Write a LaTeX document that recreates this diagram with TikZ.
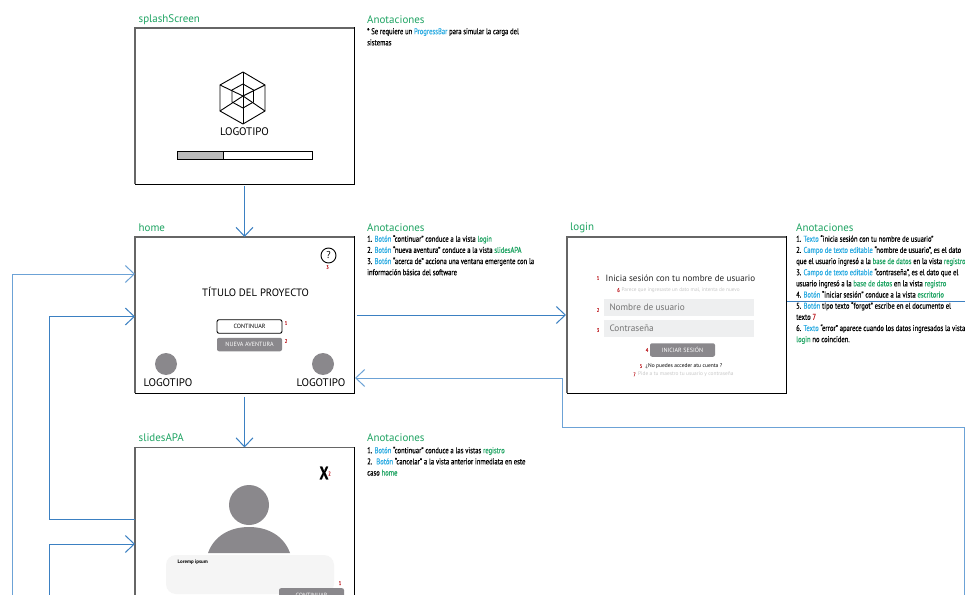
\documentclass[tikz,border=0pt]{standalone}
\usepackage{fontspec}
\setmainfont{PT Sans}
\newfontfamily\notefont[FakeStretch=0.79,FakeBold=0.4]{PT Sans}
\usetikzlibrary{arrows.meta}

\definecolor{linkblue}{HTML}{3B80C2}
\definecolor{linkpale}{HTML}{6CA2D6}
\definecolor{viewgreen}{HTML}{1FA463}
\definecolor{typeblue}{HTML}{2AABE2}
\definecolor{numred}{HTML}{C1272D}
\definecolor{btngray}{HTML}{8A888C}
\definecolor{fieldgray}{HTML}{EEEFF0}

\newcommand{\tipo}[1]{\textcolor{typeblue}{#1}}
\newcommand{\vista}[1]{\textcolor{viewgreen}{#1}}

\tikzset{
	screen/.style={draw=black, line width=1bp, fill=white, inner sep=0, outer sep=0, minimum width=219bp, minimum height=156bp},
	viewname/.style={anchor=west, inner sep=0, text=viewgreen, font=\fontsize{11}{12}\selectfont},
	note/.style={anchor=north west, inner sep=0, align=left, font=\notefont\fontsize{8.4}{11.2}\selectfont},
	link/.style={draw=linkblue, line width=1bp},
	linkarrow/.style={link, -{Straight Barb[length=9bp,width=17bp,line width=1bp]}},
	num/.style={inner sep=0, text=numred, font=\notefont\fontsize{5.6}{6}\selectfont},
	btn/.style={fill=btngray, rounded corners=2bp, inner sep=0, minimum width=65bp, minimum height=13.5bp, text=white, font=\fontsize{6.1}{7}\selectfont},
	field/.style={fill=fieldgray, inner sep=0, minimum width=150.5bp, minimum height=17bp},
	logotext/.style={inner sep=0, font=\fontsize{11}{12}\selectfont},
	logoline/.style={line width=0.9bp, line join=round}
}

\begin{document}
\begin{tikzpicture}[x=1bp,y=-1bp]
	\useasboundingbox (0,0) rectangle (965,595);
	\clip (0,0) rectangle (965,595);
	\fill[white] (0,0) rectangle (965,595);

	% the four views
	\node[screen] (splash) at (244.5,106) {};
	\node[screen] (home) at (244.5,315) {};
	\node[screen] (login) at (676.5,315) {};
	\node[screen] (slides) at (244.5,525.5) {};

	\foreach \v in {splash,home,login,slides}
		\draw[line width=1.2bp, color=black!60] (\v.south west) -- (\v.north west) -- (\v.north east);

	\node[viewname] (namesplash) at (138.5,20) {splashScreen};
	\node[viewname] (namehome) at (138.5,227.5) {home};
	\node[viewname] (namelogin) at (570,227.5) {login};
	\node[viewname] (nameslides) at (138.5,438) {slidesAPA};

	% annotations
	\node[viewname] (headsplash) at (367,19.5) {Anotaciones};
	\node[note] (notesplash) at (367,28) {* Se requiere un \tipo{ProgressBar} para simular la carga del\\sistemas};

	\node[viewname] (headhome) at (367,227.5) {Anotaciones};
	\node[note] (notehome) at (367,235) {1. \tipo{Botón} “continuar” conduce a la vista \vista{login}\\2. \tipo{Botón} “nueva aventura” conduce a la vista \vista{slidesAPA}\\3. \tipo{Botón} “acerca de” acciona una ventana emergente con la\\información básica del software};

	\node[viewname] (headlogin) at (796,227.5) {Anotaciones};
	\node[note] (notelogin) at (796,235) {1. \tipo{Texto} “inicia sesión con tu nombre de usuario”\\2. \tipo{Campo de texto editable} “nombre de usuario”, es el dato\\que el usuario ingresó a la \vista{base de datos} en la vista \vista{registro}\\3. \tipo{Campo de texto editable} “contraseña”, es el dato que el\\usuario ingresó a la \vista{base de datos} en la vista \vista{registro}\\4. \tipo{Botón} “iniciar sesión” conduce a la vista \vista{escritorio}\\5. \tipo{Botón} tipo texto “forgot” escribe en el documento el\\texto \textcolor{numred}{7}\\6. \tipo{Texto} “error” aparece cuando los datos ingresados la vista\\\vista{login} no coinciden.};

	\node[viewname] (headslides) at (367,438) {Anotaciones};
	\node[note] (noteslides) at (367,446.5) {1. \tipo{Botón} “continuar” conduce a las vistas \vista{registro}\\2. \ \tipo{Botón} “cancelar” a la vista anterior inmediata en este\\caso \vista{home}};

	% splash content
	\draw[logoline] (243,72) -- (265,85) -- (265,111) -- (243,124) -- (220,111) -- (220,85) -- cycle;
	\draw[logoline] (243,84) -- (253.5,90) -- (253.5,102) -- (243,108) -- (232,102) -- (232,90) -- cycle;
	\draw[logoline] (243,72) -- (243,124);
	\draw[logoline] (220,85) -- (243,96) -- (265,111);
	\draw[logoline] (265,85) -- (243,96) -- (220,111);
	\node[logotext] (logosplash) at (244.5,132) {LOGOTIPO};
	\fill[color=black!27] (177,151.5) rectangle (223,159.5);
	\draw[line width=1bp] (177,151.5) rectangle (312,159.5);
	\draw[line width=1bp] (223,151.5) -- (223,159.5);

	% home content
	\draw[line width=0.9bp] (328.5,255.5) circle (7.5);
	\node[inner sep=0, font=\fontsize{10}{11}\selectfont] (helpmark) at (328.5,255.5) {?};
	\node[num] (numhelp) at (327.5,267) {3};
	\node[inner sep=0, font=\fontsize{10.7}{12}\selectfont] (title) at (255.5,292) {TÍTULO DEL PROYECTO};
	\node[btn, fill=white, draw=black, line width=0.9bp, text=black] (btncontinuar) at (249.5,326.5) {CONTINUAR};
	\node[num] (numcontinuar) at (286,323) {1};
	\node[btn] (btnaventura) at (249.5,344.5) {NUEVA AVENTURA};
	\node[num] (numaventura) at (286,341) {2};
	\fill[color=btngray] (166,364) circle (11);
	\fill[color=btngray] (323,364) circle (11);
	\node[logotext] (logoleft) at (168,383) {LOGOTIPO};
	\node[logotext] (logoright) at (321,383) {LOGOTIPO};

	% login content
	\node[num] (numtexto) at (598,278) {1};
	\node[anchor=west, inner sep=0, text=black!85, font=\fontsize{9.1}{11}\selectfont] (logintext) at (605.5,278) {Inicia sesión con tu nombre de usuario};
	\node[num] (numerror) at (618.5,290) {6};
	\node[anchor=west, inner sep=0, text=black!22, font=\fontsize{5.3}{6}\selectfont] (errortext) at (621.5,290) {Parece que ingresaste un dato mal, intenta de nuevo};
	\node[num] (numuser) at (598,310) {2};
	\node[field, label={[anchor=west, inner sep=0, text=black!55, font=\fontsize{9.3}{11}\selectfont]west:\hspace{6bp}Nombre de usuario}] (fielduser) at (678.75,307.5) {};
	\node[num] (numpass) at (598,330) {3};
	\node[field, label={[anchor=west, inner sep=0, text=black!55, font=\fontsize{9.3}{11}\selectfont]west:\hspace{6bp}Contraseña}] (fieldpass) at (678.75,328.5) {};
	\node[num] (numlogin) at (647,350) {4};
	\node[btn] (btnlogin) at (682.5,350) {INICIAR SESIÓN};
	\node[num] (numforgot) at (641,366) {5};
	\node[anchor=west, inner sep=0, font=\fontsize{5.5}{6}\selectfont] (forgot) at (645.5,366) {¿No puedes acceder atu cuenta ?};
	\node[num] (numhint) at (634.5,374.5) {7};
	\node[anchor=west, inner sep=0, text=black!22, font=\fontsize{5.4}{6}\selectfont] (hint) at (638,374.5) {Pide a tu maestro tu usuario y contraseña};

	% slides content
	\node[inner sep=0, font=\bfseries\notefont\fontsize{18}{19}\selectfont] (closex) at (324,473) {X};
	\node[num] (numclose) at (329.5,473.5) {2};
	\fill[color=btngray] (249,505) circle (20);
	\fill[color=btngray] (208,553) .. controls (214,536) and (230,527) .. (249,527) .. controls (268,527) and (284,536) .. (290,553) -- cycle;
	\fill[color=black!4, rounded corners=10bp] (166,555) rectangle (334,594);
	\node[anchor=west, inner sep=0, font=\bfseries\fontsize{5}{6}\selectfont] (lorem) at (177.5,562) {Loremp ipsum};
	\node[num] (numslides) at (340,583) {1};
	\node[btn, anchor=north] (btnslides) at (311.5,588) {CONTINUAR};

	% connections
	\coordinate (homeinA) at (135,274);
	\coordinate (homeinB) at (135,316.5);
	\coordinate (slidesout) at (135,519);
	\coordinate (slidesin) at (135,544);
	\coordinate (homeinC) at (355,378);
	\coordinate (loginout) at (787,301.5);
	\coordinate (pageright) at (965,301.5);

	\draw[linkarrow] ([yshift=-2]splash.south) -- (home.north);
	\draw[linkarrow] ([yshift=-4]home.south) -- (slides.north);
	\draw[linkarrow] ([xshift=3]home.east) -- ([xshift=-1]login.west);
	\draw[link] (loginout) -- (pageright);
	\draw[linkarrow, draw=linkpale] (964.5,595) -- (964.5,427) -- (562,427) -- (562,378) -- (homeinC);
	\draw[linkarrow, draw=linkpale] (12,595) -- (12,274) -- (homeinA);
	\draw[linkarrow] (slidesout) -- (49,519) -- (49,316.5) -- (homeinB);
	\draw[linkarrow] (49,595) -- (49,544) -- (slidesin);
\end{tikzpicture}
\end{document}
